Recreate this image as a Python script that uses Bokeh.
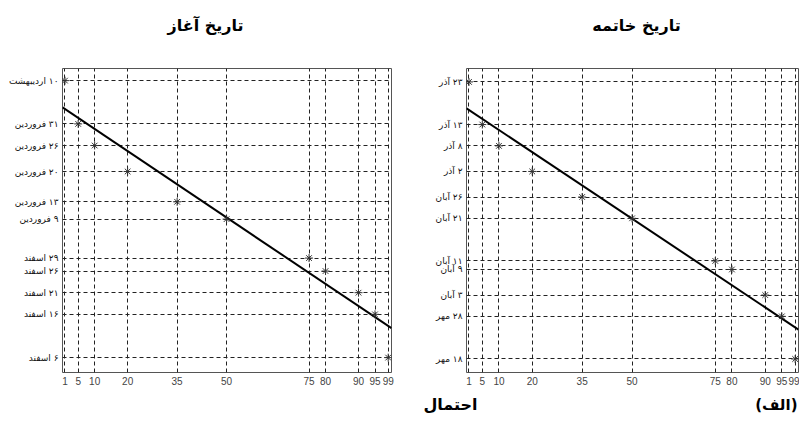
from bokeh.plotting import figure
from bokeh.layouts import row, column
from bokeh.models import Range1d, FixedTicker
from bokeh.core.properties import value
from bokeh.embed import file_html
from bokeh.resources import INLINE

# ---- data ----
prob = [1, 5, 10, 20, 35, 50, 75, 80, 90, 95, 99]
prob_ticks = [1, 5, 10, 20, 35, 50, 75, 80, 90, 95, 99]

# start dates: days counted from 1 Esfand
start_days = [69, 59, 54, 48, 41, 37, 28, 25, 20, 15, 5]
start_labels = ["۱۰ اردیبهشت", "۳۱ فروردین", "۲۶ فروردین", "۲۰ فروردین", "۱۳ فروردین",
                "۹ فروردین", "۲۹ اسفند", "۲۶ اسفند", "۲۱ اسفند", "۱۶ اسفند", "۶ اسفند"]
# end dates: days counted from 1 Mehr
end_days = [82, 72, 67, 61, 55, 50, 40, 38, 32, 27, 17]
end_labels = ["۲۳ آذر", "۱۳ آذر", "۸ آذر", "۲ آذر", "۲۶ آبان", "۲۱ آبان",
              "۱۱ آبان", "۹ آبان", "۳ آبان", "۲۸ مهر", "۱۸ مهر"]

fit_x = [0.25, 100]
start_fit = [62.8, 11.8]
end_fit = [75.8, 23.9]

titles = ["تاریخ آغاز", "تاریخ خاتمه"]
bottom_texts = ["احتمال", "(الف)"]

FA = "DejaVu Sans"
RLM = "\u200f"


def make_panel(days, labels, fit, y0, y1, width, mbl, mbr, mbt, mbb):
    p = figure(width=width, height=340, output_backend="svg", toolbar_location=None,
               x_range=Range1d(0.25, 100), y_range=Range1d(y0, y1),
               min_border_left=mbl, min_border_right=mbr,
               min_border_top=mbt, min_border_bottom=mbb)
    p.background_fill_color = "white"
    p.border_fill_color = "white"
    p.outline_line_color = "#555555"
    p.outline_line_width = 1

    p.xaxis.ticker = FixedTicker(ticks=prob_ticks)
    p.yaxis.ticker = FixedTicker(ticks=days)
    p.yaxis.major_label_overrides = {d: RLM + l for d, l in zip(days, labels)}
    for ax in (p.xaxis, p.yaxis):
        ax.axis_line_color = None
        ax.major_tick_line_color = None
        ax.minor_tick_line_color = None
        ax.major_tick_out = 0
        ax.major_tick_in = 0
    p.xaxis.major_label_text_font = "Liberation Sans"
    p.xaxis.major_label_text_font_size = "10px"
    p.xaxis.major_label_text_color = "#444444"
    p.xaxis.major_label_standoff = 4
    p.yaxis.major_label_text_font = FA
    p.yaxis.major_label_text_font_size = "9px"
    p.yaxis.major_label_text_color = "#111111"
    p.yaxis.major_label_standoff = 4

    for g in (p.xgrid, p.ygrid):
        g.grid_line_color = "#222222"
        g.grid_line_dash = "4 3"
        g.grid_line_width = 1

    p.line(fit_x, fit, line_color="black", line_width=2)
    p.scatter(prob, days, marker="asterisk", size=8, line_color="#333333", line_width=1)
    return p


def strip(height):
    s = figure(width=799, height=height, output_backend="svg", toolbar_location=None,
               x_range=Range1d(0, 799), y_range=Range1d(0, height),
               min_border=0, min_border_left=0, min_border_right=0,
               min_border_top=0, min_border_bottom=0)
    s.axis.visible = False
    s.grid.visible = False
    s.outline_line_color = None
    s.background_fill_color = "white"
    s.border_fill_color = "white"
    return s


p1 = make_panel(start_days, start_labels, start_fit, 1.56, 71.8, 400, 62, 9, 16, 18)
p2 = make_panel(end_days, end_labels, end_fit, 13.83, 85.15, 399, 66, 1, 18, 18)

top = strip(50)
top.text(x=[205, 636], y=[25, 25], text=titles, text_align="center", text_baseline="middle",
         text_font=value(FA), text_font_style="bold", text_font_size="16px", text_color="black")

bottom = strip(34)
bottom.text(x=[450], y=[20], text=[bottom_texts[0]], text_align="center", text_baseline="middle",
            text_font=value(FA), text_font_style="bold", text_font_size="16px", text_color="black")
bottom.text(x=[797], y=[20], text=[bottom_texts[1]], text_align="right", text_baseline="middle",
            text_font=value(FA), text_font_style="bold", text_font_size="15px", text_color="black")

layout = column(top, row(p1, p2), bottom)
open("out.html", "w").write(file_html(layout, INLINE))
